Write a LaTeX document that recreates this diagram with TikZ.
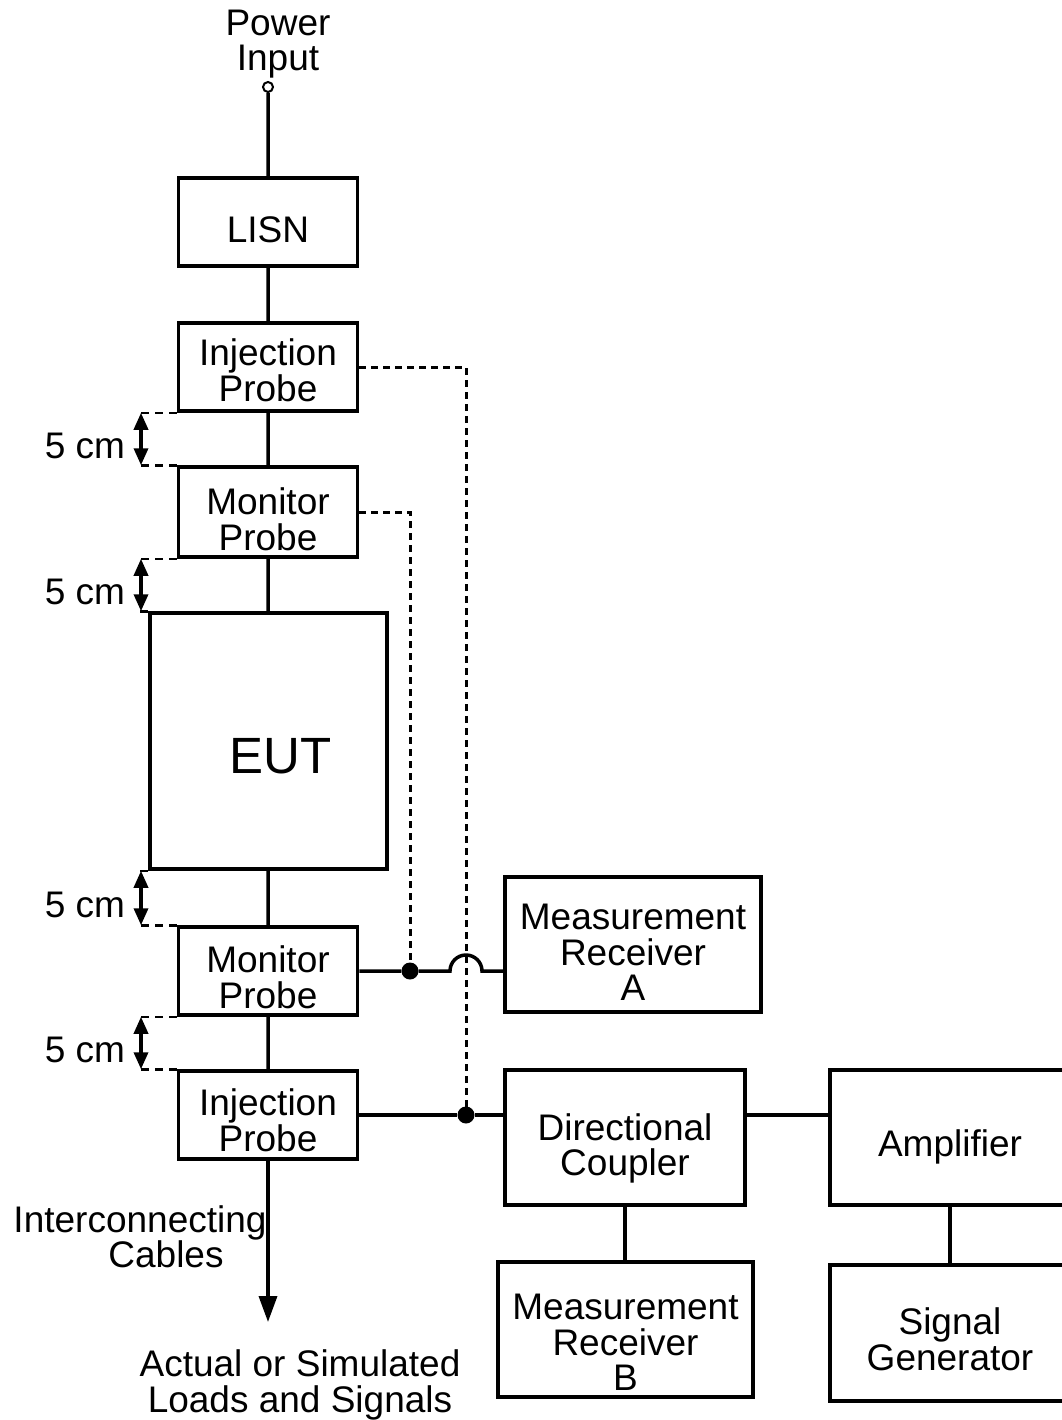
\documentclass[tikz,border=0pt]{standalone}
\usepackage{fontspec}
\setmainfont{Liberation Sans}
\usetikzlibrary{arrows.meta,calc}
\newcommand{\lift}[1][41pt]{\rule{0pt}{#1}}
\tikzset{
    >=Stealth,
    block/.style={rectangle, draw, line width=3.5pt, align=center, inner sep=2pt,
        font=\fontsize{37}{35.5}\selectfont},
    probebox/.style={block, minimum width=179pt, minimum height=88pt},
    lbl/.style={align=center, inner sep=0pt, font=\fontsize{37}{35.5}\selectfont},
    wire/.style={line width=3.5pt},
    probe link/.style={line width=3pt, dash pattern=on 7pt off 5pt},
    gap/.style={line width=2.5pt, dash pattern=on 8pt off 6pt},
    dim/.style={line width=3.5pt, {Triangle[length=17pt,width=14pt]}-{Triangle[length=17pt,width=14pt]}},
    dot/.style={circle, fill, inner sep=0pt, minimum size=17pt}
}

\begin{document}
\begin{tikzpicture}[x=1pt, y=-1pt]
    \useasboundingbox (0,0) rectangle (1061,1420);

    % cable under test
    \node[circle, draw, line width=2pt, inner sep=0pt, minimum size=10pt] (pin) at (268,87) {};
    \node[lbl] (pintext) at (278,44) {Power\\Input};
    \node[probebox] (lisn) at (268,222) {\lift LISN};
    \node[probebox] (injTop) at (268,367) {\lift[33pt]Injection\\Probe};
    \node[probebox, minimum height=90pt] (monTop) at (268,512) {\lift Monitor\\Probe};
    \node[block, minimum width=237pt, minimum height=256pt, font=\fontsize{51}{51}\selectfont]
        (eut) at (268.5,741) {\lift[65pt]\hspace*{24pt}EUT};
    \node[probebox] (monBot) at (268,971) {\lift[39pt]Monitor\\Probe};
    \node[probebox] (injBot) at (268,1115) {\lift[37pt]Injection\\Probe};
    \coordinate (loadend) at (268,1322);
    \node[lbl] (cables) at (140,1237) {Interconnecting\\\hspace*{52pt}Cables};
    \node[lbl] (loads) at (300,1385) {Actual or Simulated\\Loads and Signals};

    % instruments
    \node[block, minimum width=256pt, minimum height=135pt] (rxA) at (633,944.5) {\lift Measurement\\Receiver\\A};
    \node[block, minimum width=240pt, minimum height=135pt] (coupler) at (625,1137.5) {\lift[49pt]Directional\\Coupler};
    \node[block, minimum width=240pt, minimum height=135pt] (amp) at (950,1137.5) {\lift[45pt]Amplifier};
    \node[block, minimum width=255pt, minimum height=135pt] (rxB) at (625.5,1329.5) {\lift[51pt]Measurement\\Receiver\\B};
    \node[block, minimum width=240pt, minimum height=136pt] (siggen) at (950,1333) {\lift[39pt]Signal\\Generator};

    \draw[wire] (pin) -- (lisn) -- (injTop) -- (monTop) -- (eut) -- (monBot) -- (injBot);
    \draw[wire, -{Triangle[length=26pt,width=18pt]}] (injBot) -- (loadend);

    % 5 cm spacings
    \coordinate (gx) at (135,0);
    \coordinate (ax) at (141,0);
    \coordinate (tx) at (85,0);
    \foreach \a/\b in {injTop/monTop, monTop/eut, eut/monBot, monBot/injBot}{
        \draw[gap] (\a.south west) -- (\a.south west -| gx);
        \draw[gap] (\b.north west) -- (\b.north west -| gx);
        \draw[dim] (\a.south west -| ax) -- (\b.north west -| ax);
        \node[lbl, yshift=-7pt] at ($(\a.south west -| tx)!0.5!(\b.north west -| tx)$) {5 cm};
    }

    % probe leads
    \node[dot] (jA) at (410,971) {};
    \node[dot] (jB) at (466,1115) {};
    \draw[probe link] (injTop.east) -| (jB.center);
    \draw[probe link] (monTop.east) -| (jA.center);
    \draw[wire] (monBot.east) -- (jA) -- ([xshift=-16pt]jB |- monBot.east)
        arc[start angle=180, end angle=0, radius=16pt] -- (monBot.east -| rxA.west);
    \draw[wire] (injBot.east) -- (jB) -- (injBot.east -| coupler.west);
    \draw[wire] (coupler.east |- injBot.east) -- (amp.west |- injBot.east);
    \draw[wire] (coupler.south) -- (coupler.south |- rxB.north);
    \draw[wire] (amp.south) -- (amp.south |- siggen.north);
\end{tikzpicture}
\end{document}
